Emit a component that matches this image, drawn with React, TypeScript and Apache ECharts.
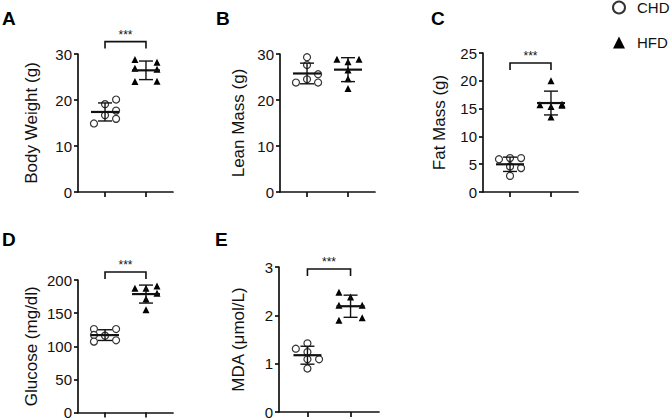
import React, { useEffect, useRef } from "react";
import * as echarts from "echarts";

// ---------- data ----------
const panelLetters = ["A", "B", "C", "D", "E"];
const yNames = ["Body Weight (g)", "Lean Mass (g)", "Fat Mass (g)", "Glucose (mg/dl)", "MDA (μmol/L)"];
const yMax = [30, 30, 25, 200, 3];
const yStep = [10, 10, 5, 50, 1];
const groupNames = ["CHD", "HFD"];
const sigText = "***";

// Body weight (g)
const chdBody = [14.9, 19.1, 16.7, 20.1, 17.7, 15.9];
const chdBodyCol = [-1, 0, 0, 1, 1, 1];
const hfdBody = [28.8, 26.9, 24.0, 28.2, 26.7, 24.1];
const hfdBodyCol = [-1, -1, -1, 1, 1, 1];
// Lean mass (g)
const chdLean = [23.8, 29.3, 27.6, 24.5, 25.6, 23.8];
const chdLeanCol = [-1, 0, 0, 0, 1, 1];
const hfdLean = [28.85, 28.3, 26.5, 24.6, 22.5, 28.85];
const hfdLeanCol = [-1, 0, 0, 0, 0, 1];
// Fat mass (g)
const chdFat = [5.9, 6.1, 4.6, 2.9, 6.1, 4.3];
const chdFatCol = [-1, 0, 0, 0, 1, 1];
const hfdFat = [15.7, 20.0, 15.4, 13.5, 15.8, 15.6];
const hfdFatCol = [-1, 0, 0, 0, 1, 1];
// Glucose (mg/dl)
const chdGlu = [126, 117, 107, 116, 126, 109];
const chdGluCol = [-1, -1, -1, 0, 1, 1];
const hfdGlu = [187.5, 187.5, 171.5, 155, 191, 180];
const hfdGluCol = [-1, 0, 0, 0, 1, 1];
// MDA (μmol/L)
const chdMda = [1.31, 1.42, 1.24, 1.09, 0.9, 1.09];
const chdMdaCol = [-1, 0, 0, 0, 0, 1];
const hfdMda = [2.48, 2.38, 2.21, 2.21, 1.95, 1.9];
const hfdMdaCol = [-1, 0, -1, 1, 1, -1];

// significance bracket heights (axis units); null = none
const sigY = [32.7, null, 23.2, 212, 2.96];

const chdValues = [chdBody, chdLean, chdFat, chdGlu, chdMda];
const chdCols = [chdBodyCol, chdLeanCol, chdFatCol, chdGluCol, chdMdaCol];
const hfdValues = [hfdBody, hfdLean, hfdFat, hfdGlu, hfdMda];
const hfdCols = [hfdBodyCol, hfdLeanCol, hfdFatCol, hfdGluCol, hfdMdaCol];

// ---------- layout ----------
const FONT = "Arial, 'Liberation Sans', Helvetica, sans-serif";
const grids = [
  { left: 78, top: 54, width: 95, height: 138 },
  { left: 280, top: 54, width: 95, height: 138 },
  { left: 483, top: 53, width: 95, height: 139 },
  { left: 78, top: 280, width: 95, height: 133 },
  { left: 279, top: 267, width: 100, height: 145 },
];
const letterPos = [
  [2, 9],
  [216, 9],
  [431, 9],
  [2, 230],
  [215, 230],
];
const nameGaps = [38, 33, 35, 38, 32];
const JITTER = 0.27;
const X_MIN = 0.34;
const X_MAX = 2.66;

function mean(a: number[]) {
  return a.reduce((s, v) => s + v, 0) / a.length;
}
function sd(a: number[]) {
  const m = mean(a);
  return Math.sqrt(a.reduce((s, v) => s + (v - m) * (v - m), 0) / (a.length - 1));
}

export default function App() {
  const ref = useRef<HTMLDivElement>(null);
  useEffect(() => {
    if (!ref.current) return;
    const chart = echarts.init(ref.current, undefined, { renderer: "svg" });

    const xAxis: any[] = [];
    const yAxis: any[] = [];
    const series: any[] = [];

    grids.forEach((_, i) => {
      xAxis.push({
        type: "value",
        gridIndex: i,
        min: X_MIN,
        max: X_MAX,
        axisLine: { show: true, onZero: false, lineStyle: { color: "#111", width: 1.7 } },
        axisTick: { show: true, customValues: [1, 2], length: 5, lineStyle: { color: "#111", width: 1.7 } },
        axisLabel: { show: false },
        splitLine: { show: false },
      });
      yAxis.push({
        type: "value",
        gridIndex: i,
        min: 0,
        max: yMax[i],
        interval: yStep[i],
        name: yNames[i],
        nameLocation: "middle",
        nameGap: nameGaps[i],
        nameTextStyle: { fontSize: 17, color: "#111", fontFamily: FONT },
        axisLine: { show: true, lineStyle: { color: "#111", width: 1.7 } },
        axisTick: { show: true, length: 4, lineStyle: { color: "#111", width: 1.7 } },
        axisLabel: { fontSize: 15, color: "#111", fontFamily: FONT, margin: 6 },
        splitLine: { show: false },
      });

      const chd = chdValues[i].map((v, k) => [1 + chdCols[i][k] * JITTER, v]);
      const hfd = hfdValues[i].map((v, k) => [2 + hfdCols[i][k] * JITTER, v]);

      series.push({
        type: "scatter",
        name: groupNames[0],
        xAxisIndex: i,
        yAxisIndex: i,
        symbol: "circle",
        symbolSize: 7,
        itemStyle: { color: "#fff", borderColor: "#333", borderWidth: 1.2, opacity: 1 },
        data: chd,
        z: 2,
      });
      series.push({
        type: "scatter",
        name: groupNames[1],
        xAxisIndex: i,
        yAxisIndex: i,
        symbol: "triangle",
        symbolSize: 7,
        itemStyle: { color: "#000", opacity: 1 },
        data: hfd,
        z: 2,
      });

      // mean ± SD bars
      const stats = [
        [1, mean(chdValues[i]), sd(chdValues[i])],
        [2, mean(hfdValues[i]), sd(hfdValues[i])],
      ];
      series.push({
        type: "custom",
        xAxisIndex: i,
        yAxisIndex: i,
        z: 5,
        silent: true,
        clip: false,
        data: stats,
        renderItem: (_p: any, api: any) => {
          const x = api.value(0);
          const m = api.value(1);
          const s = api.value(2);
          const c = api.coord([x, m]);
          const t = api.coord([x, m + s]);
          const b = api.coord([x, m - s]);
          const st = { stroke: "#111", lineWidth: 1.4, fill: null };
          return {
            type: "group",
            children: [
              { type: "line", shape: { x1: c[0] - 14, y1: c[1], x2: c[0] + 14, y2: c[1] }, style: { stroke: "#111", lineWidth: 2.2 } },
              { type: "line", shape: { x1: c[0], y1: t[1], x2: c[0], y2: b[1] }, style: st },
              { type: "line", shape: { x1: c[0] - 7, y1: t[1], x2: c[0] + 7, y2: t[1] }, style: st },
              { type: "line", shape: { x1: c[0] - 7, y1: b[1], x2: c[0] + 7, y2: b[1] }, style: st },
            ],
          };
        },
      });

      if (sigY[i] != null) {
        series.push({
          type: "custom",
          xAxisIndex: i,
          yAxisIndex: i,
          z: 5,
          silent: true,
          clip: false,
          data: [[1, 2, sigY[i]]],
          renderItem: (_p: any, api: any) => {
            const p1 = api.coord([api.value(0), api.value(2)]);
            const p2 = api.coord([api.value(1), api.value(2)]);
            return {
              type: "group",
              children: [
                {
                  type: "polyline",
                  shape: { points: [[p1[0], p1[1] + 7], [p1[0], p1[1]], [p2[0], p2[1]], [p2[0], p2[1] + 7]] },
                  style: { stroke: "#111", lineWidth: 1.6, fill: null },
                },
                {
                  type: "text",
                  x: (p1[0] + p2[0]) / 2,
                  y: p1[1] - 1,
                  style: { text: sigText, fontSize: 12, fontFamily: FONT, fill: "#111", align: "center", verticalAlign: "bottom" },
                },
              ],
            };
          },
        });
      }
    });

    const graphic = panelLetters.map((L, i) => ({
      type: "text",
      left: letterPos[i][0],
      top: letterPos[i][1],
      style: { text: L, fontSize: 19, fontWeight: "bold", fontFamily: FONT, fill: "#000" },
    }));

    chart.setOption({
      animation: false,
      backgroundColor: "#fff",
      grid: grids.map((g) => ({ ...g, containLabel: false })),
      xAxis,
      yAxis,
      series,
      graphic,
      legend: {
        orient: "vertical",
        left: 612,
        top: 0,
        padding: 0,
        itemGap: 20,
        itemWidth: 12,
        itemHeight: 12,
        data: groupNames,
        textStyle: { fontSize: 15, color: "#111", fontFamily: FONT, padding: [0, 0, 0, 7] },
        selectedMode: false,
      },
    });
    return () => chart.dispose();
  }, []);
  return <div ref={ref} style={{ position: "fixed", left: 0, top: 0, width: 672, height: 420 }} />;
}
